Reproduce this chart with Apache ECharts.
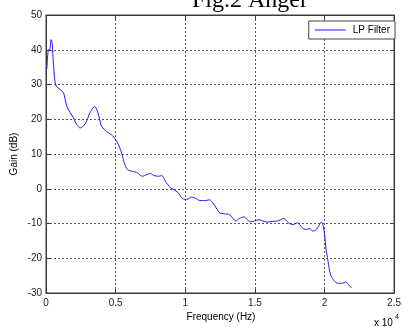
<!DOCTYPE html>
<html>
<head>
<meta charset="utf-8">
<script src="https://cdn.jsdelivr.net/npm/echarts@6/dist/echarts.min.js"></script>
<style>
  html, body { margin: 0; padding: 0; background: #ffffff; }
  #chart { width: 404px; height: 327px; }
</style>
</head>
<body>
<div id="chart"></div>
<script>
// Frequency response of the low-pass filter (frequency in Hz, gain in dB)
const freqHz = [
  60, 177, 269, 368, 440, 500, 552, 625, 743, 1025, 1259, 1499, 1966, 2206, 2440,
  2673, 2914, 3147, 3501, 3734, 3975, 4088, 4328, 4682, 4915, 5148, 5389, 5502,
  5622, 5856, 6209, 6563, 6916, 7270, 7511, 7744, 8098, 8331, 8571, 8925, 9158,
  9512, 9745, 9986, 10219, 10453, 10806, 11047, 11400, 11754, 11987, 12221, 12461,
  12815, 13168, 13402, 13635, 13876, 14229, 14462, 14696, 14979, 15290, 15523,
  15877, 16230, 16584, 16817, 17058, 17291, 17525, 17765, 18048, 18232, 18472,
  18706, 18939, 19179, 19413, 19604, 19767, 19887, 20000, 20120, 20240, 20353,
  20474, 20707, 20947, 21301, 21535, 21768, 21959
];
const gainDb = [
  34.5, 40.0, 40.0, 42.9, 41.9, 38.1, 35.2, 31.4, 29.5, 28.5, 27.6, 23.7, 20.4, 18.5, 17.5,
  18.0, 19.4, 21.8, 23.7, 21.8, 18.0, 17.5, 16.5, 15.6, 14.6, 13.2, 10.8, 9.3,
  7.4, 5.5, 5.0, 4.6, 3.6, 4.1, 4.4, 3.8, 3.6, 3.8, 2.2, 0.3, -0.2,
  -1.2, -2.6, -3.1, -2.9, -2.4, -2.9, -3.4, -3.4, -3.2, -4.1, -5.5, -6.9,
  -7.2, -7.4, -8.4, -9.3, -8.6, -8.1, -8.9, -9.5, -9.3, -8.9, -9.2,
  -9.6, -9.4, -9.3, -9.0, -8.5, -9.3, -10.1, -10.3, -9.8, -10.3, -11.5,
  -11.7, -11.5, -12.2, -11.7, -10.6, -9.6, -10.3, -12.8, -17.5, -20.4, -23.3,
  -25.1, -26.5, -27.2, -27.2, -26.8, -27.8, -28.6
];

// Axis settings
const xTicksHz = [0, 5000, 10000, 15000, 20000, 25000];
const xTickLabels = ['0', '0.5', '1', '1.5', '2', '2.5'];
const yMin = -30, yMax = 50, yStep = 10;

const seriesName = 'LP Filter';
const titleText = 'Fig.2 Anger';
const xAxisName = 'Frequency (Hz)';
const yAxisName = 'Gain (dB)';

const points = freqHz.map((f, i) => [f, gainDb[i]]);

const axisColor = '#3a3a3a';
const gridLine = { show: true, lineStyle: { color: '#555555', type: [2, 2], width: 1 } };
const font = 'Arial, "Liberation Sans", sans-serif';

const chart = echarts.init(document.getElementById('chart'), null, { renderer: 'canvas' });

chart.setOption({
  animation: false,
  backgroundColor: '#ffffff',
  grid: {
    left: 46, right: 5, top: 15, bottom: 34,
    show: true, borderColor: axisColor, borderWidth: 1, backgroundColor: 'transparent'
  },
  legend: {
    data: [seriesName],
    right: 9, top: 21,
    padding: [4, 5, 4, 6],
    itemWidth: 31, itemHeight: 10, itemGap: 0,
    backgroundColor: '#ffffff',
    borderColor: '#444444', borderWidth: 1, borderRadius: 0,
    icon: 'path://M0,5 L31,5 L31,6 L0,6 Z',
    textStyle: { fontFamily: font, fontSize: 10, color: '#000000', padding: [0, 0, 0, 2] }
  },
  xAxis: [{
    type: 'value', min: 0, max: 25000, interval: 5000,
    axisLine: { show: true, onZero: false, lineStyle: { color: axisColor } },
    axisTick: { show: true, inside: true, length: 4, lineStyle: { color: axisColor } },
    axisLabel: {
      fontFamily: font, fontSize: 10, color: '#222222', margin: 5,
      formatter: v => xTickLabels[xTicksHz.indexOf(v)]
    },
    splitLine: gridLine
  }, {
    type: 'value', min: 0, max: 25000, interval: 5000, position: 'top',
    axisLine: { show: true, onZero: false, lineStyle: { color: axisColor } },
    axisTick: { show: true, inside: true, length: 4, lineStyle: { color: axisColor } },
    axisLabel: { show: false }, splitLine: { show: false }
  }],
  yAxis: [{
    type: 'value', min: yMin, max: yMax, interval: yStep,
    axisLine: { show: true, onZero: false, lineStyle: { color: axisColor } },
    axisTick: { show: true, inside: true, length: 4, lineStyle: { color: axisColor } },
    axisLabel: { fontFamily: font, fontSize: 10, color: '#222222', margin: 4 },
    splitLine: gridLine
  }, {
    type: 'value', min: yMin, max: yMax, interval: yStep, position: 'right',
    axisLine: { show: true, onZero: false, lineStyle: { color: axisColor } },
    axisTick: { show: true, inside: true, length: 4, lineStyle: { color: axisColor } },
    axisLabel: { show: false }, splitLine: { show: false }
  }],
  series: [{
    name: seriesName,
    type: 'line',
    xAxisIndex: 0, yAxisIndex: 0,
    data: points,
    smooth: 0.25,
    showSymbol: false,
    lineStyle: { color: '#1a1aff', width: 1 },
    itemStyle: { color: '#1a1aff' }
  }],
  graphic: [
    {
      type: 'text', x: 250, y: 1,
      style: {
        text: titleText, textAlign: 'center', textVerticalAlign: 'middle',
        font: '24px "Liberation Serif", "Times New Roman", serif', fill: '#000000'
      }
    },
    {
      type: 'text', x: 221, y: 317,
      style: {
        text: xAxisName, textAlign: 'center', textVerticalAlign: 'middle',
        font: '10px ' + font, fill: '#000000'
      }
    },
    {
      type: 'text', x: 14, y: 154, rotation: Math.PI / 2,
      style: {
        text: yAxisName, textAlign: 'center', textVerticalAlign: 'middle',
        font: '10px ' + font, fill: '#000000'
      }
    },
    {
      type: 'text', x: 374, y: 323,
      style: {
        text: 'x 10', textAlign: 'left', textVerticalAlign: 'middle',
        font: '10px ' + font, fill: '#000000'
      }
    },
    {
      type: 'text', x: 395, y: 317,
      style: {
        text: '4', textAlign: 'left', textVerticalAlign: 'middle',
        font: '7px ' + font, fill: '#000000'
      }
    }
  ]
});
</script>
</body>
</html>
